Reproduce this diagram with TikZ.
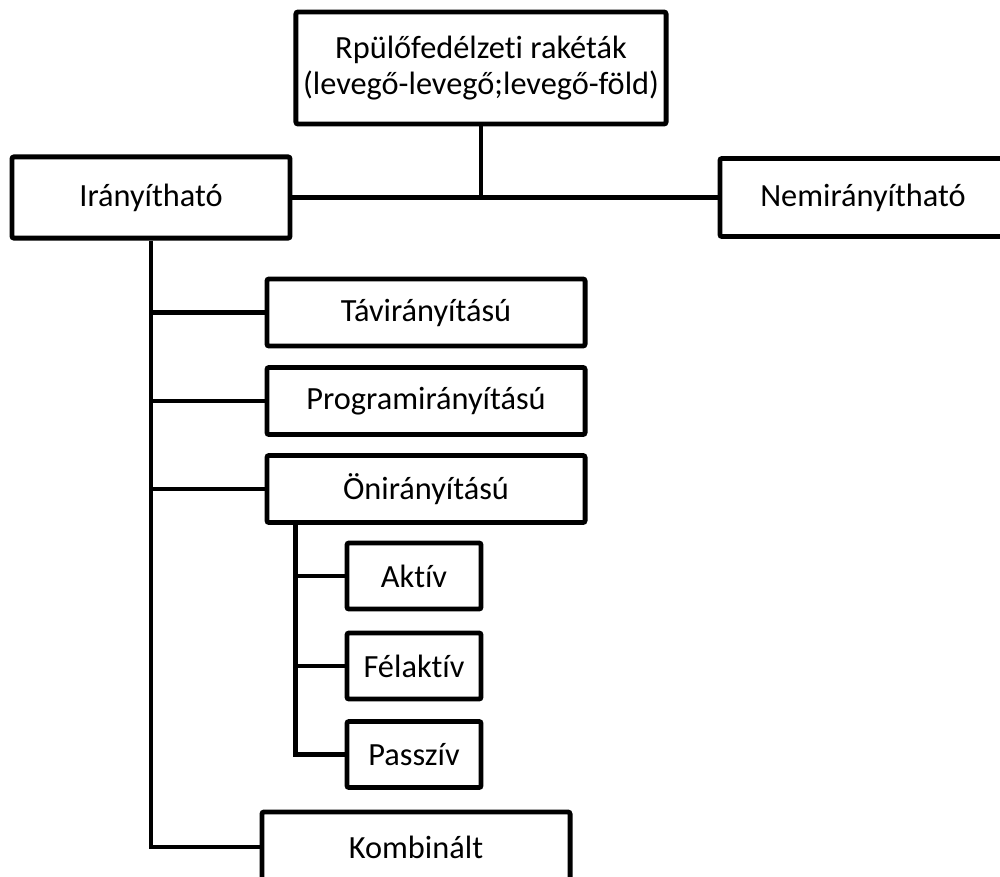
\documentclass[tikz,border=0pt]{standalone}
\usepackage{fontspec}
\setmainfont{Carlito}[Ligatures=NoCommon]
\usetikzlibrary{positioning, calc}

\tikzset{
  box/.style={draw, line width=3.5pt, rounded corners=1.5pt, fill=white,
              align=center, inner sep=2pt, font=\fontsize{23}{26}\selectfont},
  kindbox/.style={box, minimum width=7.95cm, minimum height=1.675cm},
  subbox/.style={box, minimum width=3.35cm, minimum height=1.65cm},
  link/.style={line width=3.5pt}
}

\begin{document}
\begin{tikzpicture}[x=0.025cm, y=-0.025cm]
    \useasboundingbox (0,0) rectangle (1000,876);

    % top level
    \node[box, minimum width=9.25cm, minimum height=2.8cm] (raketak) at (481,68)
      {Rpülőfedélzeti rakéták\\(levegő-levegő;levegő-föld)};
    \node[box, minimum width=6.95cm, minimum height=2.03cm] (iranyithato) at (151,197.5) {Irányítható};
    \node[box, minimum width=7.15cm, minimum height=1.95cm] (nemiranyithato) at (863,197.5) {Nemirányítható};

    % guided kinds
    \node[kindbox] (taviranyitasu) at (426,312.5) {Távirányítású};
    \node[kindbox] (programiranyitasu) at (426,401) {Programirányítású};
    \node[kindbox] (oniranyitasu) at (426,489) {Önirányítású};
    \node[box, minimum width=7.7cm, minimum height=1.75cm] (kombinalt) at (416,847) {Kombinált};

    % homing kinds
    \node[subbox] (aktiv) at (414,576) {Aktív};
    \node[subbox] (felaktiv) at (414,666) {Félaktív};
    \node[subbox] (passziv) at (414,754.5) {Passzív};

    \coordinate (onfork) at ([xshift=0.775cm]oniranyitasu.south west);

    \draw[link] (raketak.south) -- (raketak.south |- iranyithato.east);
    \draw[link] (iranyithato.east) -- (nemiranyithato.west);

    \draw[link] (iranyithato.south) |- (kombinalt.west);
    \draw[link] (iranyithato.south |- taviranyitasu.west) -- (taviranyitasu.west);
    \draw[link] (iranyithato.south |- programiranyitasu.west) -- (programiranyitasu.west);
    \draw[link] (iranyithato.south |- oniranyitasu.west) -- (oniranyitasu.west);

    \draw[link] (onfork) |- (passziv.west);
    \draw[link] (onfork |- aktiv.west) -- (aktiv.west);
    \draw[link] (onfork |- felaktiv.west) -- (felaktiv.west);
  \end{tikzpicture}
\end{document}
